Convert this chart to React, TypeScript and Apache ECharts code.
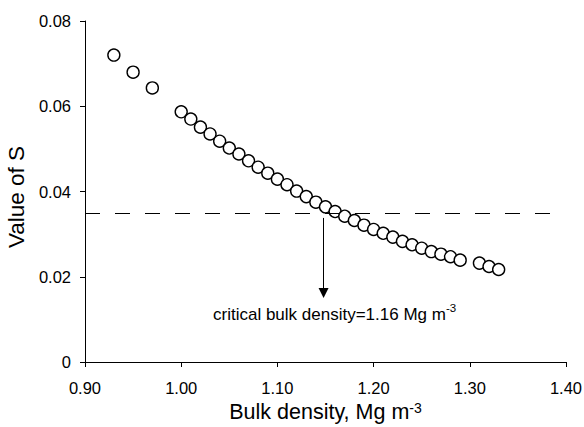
import React, { useEffect, useRef } from "react";
import * as echarts from "echarts";

const bulkDensity = [
  0.93, 0.95, 0.97, 1.0, 1.01, 1.02, 1.03, 1.04, 1.05, 1.06, 1.07, 1.08, 1.09,
  1.1, 1.11, 1.12, 1.13, 1.14, 1.15, 1.16, 1.17, 1.18, 1.19, 1.2, 1.21, 1.22,
  1.23, 1.24, 1.25, 1.26, 1.27, 1.28, 1.29, 1.31, 1.32, 1.33,
];
const valueS = [
  0.072, 0.068, 0.0643, 0.0587, 0.057, 0.0551, 0.0535, 0.0518, 0.0502, 0.0488,
  0.0472, 0.0457, 0.0443, 0.0429, 0.0416, 0.0401, 0.0388, 0.0375, 0.0364,
  0.0353, 0.0342, 0.0332, 0.0321, 0.0311, 0.0302, 0.0293, 0.0283, 0.0275,
  0.0267, 0.0259, 0.0253, 0.0247, 0.0239, 0.0232, 0.0224, 0.0217,
];
const criticalS = 0.035;
const dashedLineX = [0.9, 1.395];
const arrowX = 1.148;
const arrowY = [0.0338, 0.0162];
const annotation = "critical bulk density=1.16 Mg m";
const xTitle = "Bulk density, Mg m";
const yTitle = "Value of S";
const unitSup = "-3";

const FONT = "'Liberation Sans', Arial, sans-serif";

export default function App() {
  const ref = useRef<HTMLDivElement>(null);
  useEffect(() => {
    if (!ref.current) return;
    const chart = echarts.init(ref.current, undefined, { renderer: "svg" });
    const points = bulkDensity.map((x, i) => [x, valueS[i]]);
    chart.setOption({
      animation: false,
      backgroundColor: "#ffffff",
      textStyle: { fontFamily: FONT },
      grid: {
        left: 85,
        right: 18,
        top: 21,
        bottom: 65,
        containLabel: false,
        outerBoundsMode: "none",
      },
      xAxis: {
        type: "value",
        min: 0.9,
        max: 1.4,
        interval: 0.1,
        name: `{a|${xTitle}}{s|${unitSup}}`,
        nameLocation: "middle",
        nameGap: 37,
        nameTextStyle: {
          rich: {
            a: { fontFamily: FONT, fontSize: 21.5, color: "#000", lineHeight: 22, verticalAlign: "bottom" },
            s: { fontFamily: FONT, fontSize: 14, color: "#000", lineHeight: 22, verticalAlign: "top" },
          },
        },
        axisLine: { show: true, onZero: false, lineStyle: { color: "#000", width: 1 } },
        axisTick: { show: true, inside: false, length: 5, lineStyle: { color: "#000" } },
        axisLabel: {
          fontFamily: FONT,
          fontSize: 16.5,
          color: "#000",
          margin: 17,
          formatter: (v: number) => v.toFixed(2),
        },
        splitLine: { show: false },
      },
      yAxis: {
        type: "value",
        min: 0,
        max: 0.08,
        interval: 0.02,
        name: yTitle,
        nameLocation: "middle",
        nameGap: 47,
        nameTextStyle: { fontFamily: FONT, fontSize: 22.5, color: "#000", padding: [0, 11, 0, 0] },
        axisLine: { show: true, lineStyle: { color: "#000", width: 1 } },
        axisTick: { show: true, inside: false, length: 5, lineStyle: { color: "#000" } },
        axisLabel: {
          fontFamily: FONT,
          fontSize: 16.5,
          color: "#000",
          margin: 14,
          formatter: (v: number) => (v === 0 ? "0" : v.toFixed(2)),
        },
        splitLine: { show: false },
      },
      graphic: [
        {
          type: "text",
          left: 213,
          top: 302,
          silent: true,
          style: {
            text: `{a|${annotation}}{s|${unitSup}}`,
            rich: {
              a: { fontFamily: FONT, fontSize: 17, fill: "#000", lineHeight: 21, verticalAlign: "bottom" },
              s: { fontFamily: FONT, fontSize: 11.5, fill: "#000", lineHeight: 21, verticalAlign: "top" },
            },
          },
        },
      ],
      series: [
        {
          type: "scatter",
          data: points,
          symbol: "circle",
          symbolSize: 12,
          itemStyle: { color: "#fff", borderColor: "#000", borderWidth: 1.4, opacity: 1 },
          z: 3,
          markLine: {
            silent: true,
            animation: false,
            label: { show: false },
            data: [
              [
                { coord: [dashedLineX[0], criticalS], symbol: "none" },
                { coord: [dashedLineX[1], criticalS], symbol: "none" },
              ],
              [
                {
                  coord: [arrowX, arrowY[0]],
                  symbol: "none",
                  lineStyle: { type: "solid", color: "#000", width: 1 },
                },
                {
                  coord: [arrowX, arrowY[1]],
                  symbol: "triangle",
                  symbolSize: [10, 10],
                  lineStyle: { type: "solid", color: "#000", width: 1 },
                },
              ],
            ],
            lineStyle: { type: [15, 15], color: "#000", width: 1 },
            emphasis: { disabled: true },
          },
        },
      ],
    });
    return () => chart.dispose();
  }, []);
  return (
    <div
      ref={ref}
      style={{ position: "fixed", left: 0, top: 0, width: 584, height: 427 }}
    />
  );
}
